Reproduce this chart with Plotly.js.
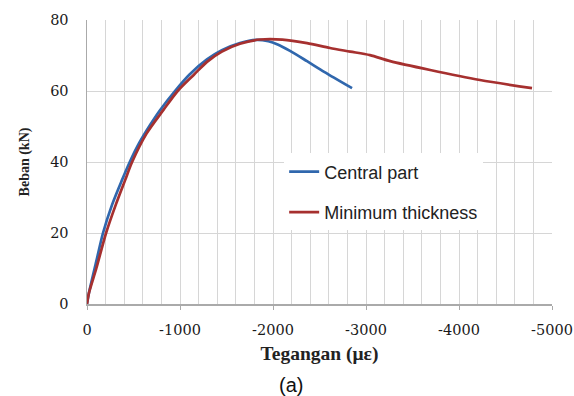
<!DOCTYPE html>
<html>
<head>
<meta charset="utf-8">
<script src="https://cdn.plot.ly/plotly-3.0.1.min.js"></script>
<style>html,body{margin:0;padding:0;background:#fff}#chart{width:574px;height:396px}</style>
</head>
<body>
<div id="chart"></div>
<script>
// Central part (blue)
var centralX = [0, -20, -100, -172, -270, -376, -460, -560, -680, -785, -946, -1100, -1290, -1450, -1645, -1824, -1950, -2050, -2183, -2366, -2550, -2850];
var centralY = [0, 3, 12, 20, 28, 34.9, 40, 45.3, 50.5, 54.6, 60, 64.6, 68.9, 71.5, 73.5, 74.4, 74.0, 73.1, 71.3, 68.4, 65.4, 60.8];
// Minimum thickness (red)
var minX = [0, -20, -100, -205, -310, -410, -485, -640, -820, -975, -1150, -1290, -1450, -1645, -1860, -2100, -2366, -2613, -2830, -3043, -3260, -3690, -4225, -4785];
var minY = [0, 3, 10, 20, 28, 34.9, 40, 48, 54.6, 60, 64.6, 68.2, 71.1, 73.3, 74.5, 74.5, 73.5, 72.1, 71.1, 70.1, 68.4, 65.9, 63.1, 60.8];
var seriesNames = ["Central part", "Minimum thickness"];
var xTickVals = [0, -1000, -2000, -3000, -4000, -5000];
var yTickVals = [0, 20, 40, 60, 80];

var traces = [
  {x: centralX, y: centralY, name: seriesNames[0], type: 'scatter', mode: 'lines',
   line: {color: '#3067ad', width: 2.7, shape: 'spline', smoothing: 0.8}, legendgroup: 'a'},
  {x: minX, y: minY, name: seriesNames[1], type: 'scatter', mode: 'lines',
   line: {color: '#a6302f', width: 2.7, shape: 'spline', smoothing: 0.8}, legendgroup: 'b'}
];

var serif = 'Liberation Serif, Times New Roman, serif';
var tickFont = {family: 'DejaVu Serif, serif', size: 14.5, color: '#1a1a1a'};

var layout = {
  width: 574, height: 396,
  margin: {l: 87, r: 22, t: 20, b: 92},
  paper_bgcolor: '#fff', plot_bgcolor: '#fff',
  showlegend: true,
  legend: {x: 0.424, y: 0.53, xanchor: 'left', yanchor: 'top',
    bgcolor: '#fff', borderwidth: 0, tracegroupgap: 14,
    font: {family: 'Liberation Sans, Arial, sans-serif', size: 18, color: '#222'}},
  xaxis: {range: [0, -5000], tickvals: xTickVals, ticktext: xTickVals.map(String),
    showgrid: true, gridcolor: '#d6d6d6', gridwidth: 1,
    minor: {dtick: 200, tick0: 0, showgrid: true, gridcolor: '#d6d6d6', gridwidth: 1},
    showline: true, linecolor: '#aaaaaa', linewidth: 1.5,
    ticks: 'outside', ticklen: 4, tickcolor: '#aaaaaa', zeroline: false,
    ticklabelstandoff: 8,
    tickfont: tickFont,
    title: {text: 'Tegangan (με)', standoff: 9,
      font: {family: serif, size: 19.5, color: '#222', weight: 'bold'}}},
  yaxis: {range: [0, 80], tickvals: yTickVals,
    showgrid: true, gridcolor: '#d6d6d6', gridwidth: 1,
    showline: true, linecolor: '#aaaaaa', linewidth: 1.5, zeroline: false,
    ticks: '', ticklabelstandoff: 14,
    tickfont: tickFont,
    title: {text: 'Beban (kN)', standoff: 17,
      font: {family: serif, size: 14, color: '#222', weight: 'bold'}}},
  annotations: [{text: '(a)', xref: 'paper', yref: 'paper', x: (291 - 87) / 465, y: -(385 - 304) / 284,
    xanchor: 'center', yanchor: 'middle', showarrow: false,
    font: {family: 'Liberation Sans, Arial, sans-serif', size: 20, color: '#111'}}]
};

Plotly.newPlot('chart', traces, layout, {displayModeBar: false, staticPlot: true});
</script>
</body>
</html>
